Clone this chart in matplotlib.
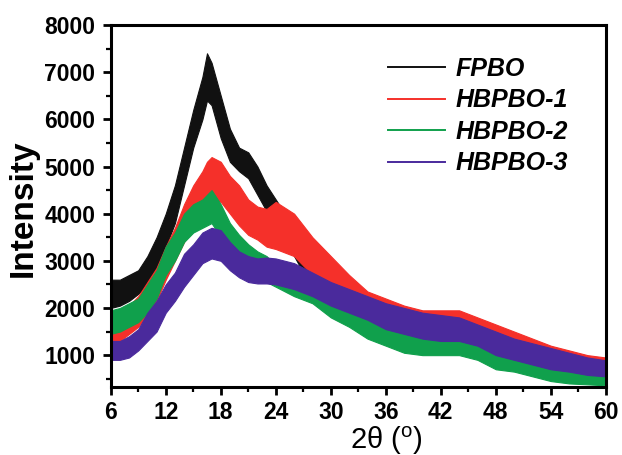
import matplotlib
matplotlib.use("Agg")
import matplotlib.pyplot as plt
from matplotlib.ticker import MultipleLocator

two_theta = [6, 7, 8, 9, 10, 11, 12, 13, 14, 15, 16, 16.5, 17, 18, 19, 20, 21,
             22, 23, 24, 26, 28, 30, 32, 34, 36, 38, 40, 42, 44, 46, 48, 50,
             52, 54, 56, 58, 60]

# lower / upper edge of each noisy trace
fpbo_lo = [2000, 2050, 2150, 2300, 2500, 2800, 3300, 3800, 4600, 5400, 6000,
           6400, 6300, 5600, 5100, 4900, 4750, 4400, 4050, 3800, 3100, 2400,
           2000, 1700, 1400, 1250, 1100, 1050, 1100, 1100, 1000, 850, 750,
           650, 550, 500, 450, 400]
fpbo_hi = [2600, 2600, 2700, 2800, 3100, 3500, 4000, 4600, 5400, 6200, 6900,
           7400, 7200, 6500, 5800, 5400, 5300, 5000, 4600, 4300, 3700, 3000,
           2500, 2200, 1950, 1750, 1600, 1550, 1550, 1550, 1450, 1300, 1150,
           1050, 950, 850, 800, 750]

hb1_lo = [1250, 1300, 1450, 1600, 1850, 2150, 2600, 3000, 3400, 3800, 4100,
          4250, 4300, 4250, 4000, 3750, 3550, 3450, 3300, 3250, 3100, 2700,
          2400, 2100, 1800, 1650, 1500, 1400, 1400, 1400, 1250, 1150, 1050,
          950, 850, 750, 700, 650]
hb1_hi = [1900, 1950, 2050, 2250, 2550, 2850, 3300, 3700, 4200, 4600, 4900,
          5100, 5200, 5100, 4800, 4600, 4300, 4150, 4100, 4250, 4000, 3500,
          3100, 2700, 2350, 2200, 2050, 1950, 1950, 1950, 1800, 1650, 1500,
          1350, 1200, 1100, 1000, 950]

hb2_lo = [1450, 1500, 1600, 1700, 1900, 2200, 2700, 3000, 3400, 3600, 3700,
          3750, 3800, 3500, 3200, 3000, 2800, 2650, 2550, 2450, 2250, 2100,
          1800, 1600, 1350, 1200, 1050, 1000, 1000, 1000, 900, 700, 650,
          550, 450, 400, 380, 360]
hb2_hi = [1950, 2000, 2100, 2200, 2500, 2800, 3300, 3600, 4000, 4200, 4300,
          4400, 4500, 4200, 3800, 3550, 3350, 3200, 3100, 2900, 2750, 2550,
          2300, 2050, 1900, 1700, 1600, 1500, 1450, 1450, 1350, 1100, 1000,
          950, 900, 800, 750, 740]

hb3_lo = [900, 900, 950, 1100, 1300, 1500, 1900, 2150, 2450, 2700, 2950,
          3000, 3050, 3000, 2800, 2650, 2550, 2520, 2520, 2500, 2400, 2250,
          2050, 1900, 1750, 1550, 1450, 1350, 1300, 1300, 1200, 1000, 900,
          800, 700, 650, 580, 550]
hb3_hi = [1300, 1300, 1400, 1550, 1900, 2150, 2500, 2750, 3150, 3350, 3600,
          3650, 3700, 3650, 3400, 3200, 3100, 3050, 3070, 3050, 2950, 2750,
          2550, 2400, 2250, 2100, 2000, 1900, 1850, 1800, 1650, 1500, 1350,
          1250, 1150, 1050, 950, 890]

labels = ["FPBO", "HBPBO-1", "HBPBO-2", "HBPBO-3"]
colors = ["#111111", "#f5302a", "#10a04c", "#4a2a9c"]

plt.rcParams["font.family"] = ["Liberation Sans", "DejaVu Sans"]
plt.rcParams["mathtext.fontset"] = "custom"
plt.rcParams["mathtext.rm"] = "Liberation Sans"

fig = plt.figure(figsize=(6.22, 4.55), dpi=100)
ax = fig.add_axes([0.178, 0.149, 0.796, 0.796])

bands = [(fpbo_lo, fpbo_hi), (hb1_lo, hb1_hi), (hb2_lo, hb2_hi), (hb3_lo, hb3_hi)]
for (lo, hi), c, lab in zip(bands, colors, labels):
    ax.fill_between(two_theta, lo, hi, color=c, lw=0.8, edgecolor=c)
    ax.plot([], [], color=c, lw=1.4, label=lab)

ax.set_xlim(6, 60)
ax.set_ylim(320, 8000)
ax.xaxis.set_major_locator(MultipleLocator(6))
ax.xaxis.set_minor_locator(MultipleLocator(3))
ax.yaxis.set_major_locator(MultipleLocator(1000))
ax.yaxis.set_minor_locator(MultipleLocator(500))
ax.set_yticks(range(1000, 8001, 1000))

for s in ax.spines.values():
    s.set_linewidth(2.2)
ax.tick_params(which="major", direction="out", length=6, width=2,
               labelsize=16.5)
ax.tick_params(which="minor", direction="out", length=3.5, width=1.6)
ax.tick_params(axis="x", which="major", pad=4)
ax.tick_params(axis="y", which="major", pad=5)
for t in ax.get_xticklabels() + ax.get_yticklabels():
    t.set_fontweight("bold")

ax.set_ylabel("Intensity", fontsize=24, fontweight="bold")
ax.yaxis.set_label_coords(-0.145, 0.494)
ax.set_xlabel(r"2θ ($^{\rm o}$)", fontsize=21)
ax.xaxis.set_label_coords(0.556, -0.102)

ax.legend(loc="upper left", bbox_to_anchor=(0.56, 0.912), frameon=False,
          borderpad=0, borderaxespad=0, handlelength=2.3, handletextpad=0.4,
          labelspacing=0.3,
          prop={"size": 18, "weight": "bold", "style": "italic"})

fig.savefig("out.png", dpi=100)
